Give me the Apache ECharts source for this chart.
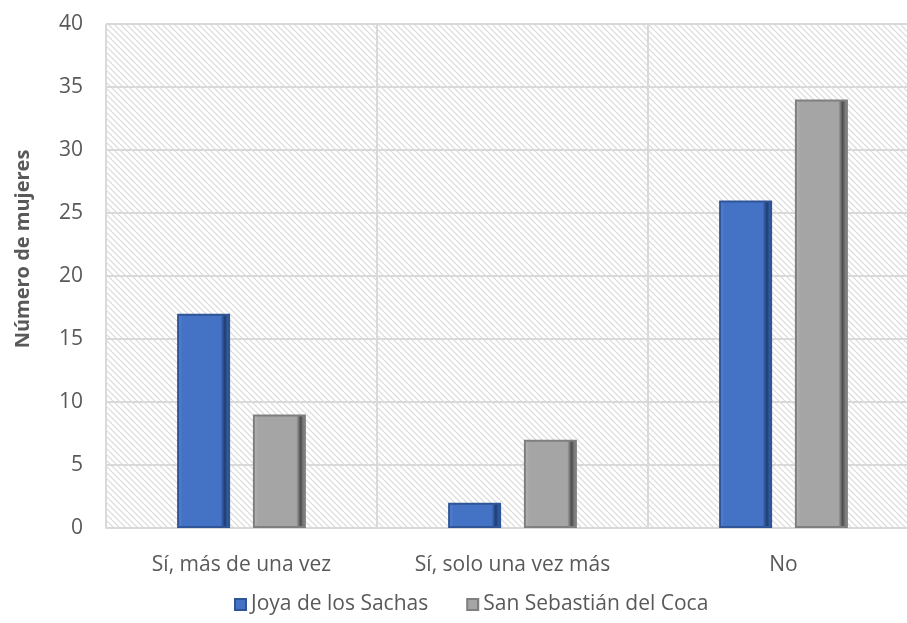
<!DOCTYPE html>
<html>
<head>
<meta charset="utf-8">
<script src="https://cdn.jsdelivr.net/npm/echarts@6/dist/echarts.min.js"></script>
<style>
  html, body { margin: 0; padding: 0; background: #fff; overflow: hidden; }
  #chart { width: 919px; height: 623px; }
</style>
</head>
<body>
<div id="chart"></div>
<script>
// Categories and series values
const categories = ['Sí, más de una vez', 'Sí, solo una vez más', 'No'];
const joyaValues = [17, 2, 26];
const cocaValues = [9, 7, 34];
const seriesNames = ['Joya de los Sachas', 'San Sebastián del Coca'];
const yTicks = { min: 0, max: 40, interval: 5 };
const yTitle = 'Número de mujeres';

// Diagonal hatch used as plot-area background
function makeHatch() {
  const c = document.createElement('canvas');
  c.width = 6; c.height = 6;
  const g = c.getContext('2d');
  g.fillStyle = '#ffffff';
  g.fillRect(0, 0, 6, 6);
  g.strokeStyle = '#d9d9d9';
  g.lineWidth = 1.2;
  g.beginPath();
  g.moveTo(-1, -1); g.lineTo(7, 7);
  g.moveTo(-4, 2); g.lineTo(4, 10);
  g.moveTo(2, -4); g.lineTo(10, 4);
  g.stroke();
  return c;
}

// Bevelled bar look: horizontal shading with a darker right edge
function bevel(light, mid, dark, border) {
  return {
    color: new echarts.graphic.LinearGradient(0, 0, 1, 0, [
      { offset: 0, color: light },
      { offset: 0.1, color: mid },
      { offset: 0.82, color: mid },
      { offset: 0.9, color: dark },
      { offset: 1, color: mid }
    ]),
    borderColor: border,
    borderWidth: 2
  };
}

const chart = echarts.init(document.getElementById('chart'));
const font = 'Open Sans';
const textGrey = '#595959';

chart.setOption({
  animation: false,
  textStyle: { fontFamily: font },
  grid: {
    left: 106, right: 0, top: 24, bottom: 95,
    show: true,
    borderWidth: 0,
    backgroundColor: { image: makeHatch(), repeat: 'repeat' }
  },
  legend: {
    bottom: 3,
    left: 229,
    itemWidth: 11,
    itemHeight: 11,
    itemGap: 38,
    icon: 'rect',
    textStyle: { fontSize: 21, color: textGrey, fontFamily: font },
    data: seriesNames
  },
  graphic: [{
    type: 'text',
    x: 13,
    y: 249,
    rotation: Math.PI / 2,
    style: {
      text: yTitle,
      fill: textGrey,
      font: 'bold 20px "Open Sans"',
      align: 'center',
      verticalAlign: 'top'
    }
  }],
  xAxis: {
    type: 'category',
    data: categories,
    axisLine: { show: true, lineStyle: { color: '#d9d9d9', width: 2 } },
    axisTick: { show: false },
    splitLine: { show: true, lineStyle: { color: '#d9d9d9', width: 2 } },
    axisLabel: { fontSize: 21, color: textGrey, margin: 27, fontFamily: font }
  },
  yAxis: {
    type: 'value',
    min: yTicks.min, max: yTicks.max, interval: yTicks.interval,
    axisLine: { show: false },
    axisTick: { show: false },
    splitLine: { lineStyle: { color: '#d9d9d9', width: 2 } },
    axisLabel: { fontSize: 21, color: textGrey, margin: 23, fontFamily: font }
  },
  series: [
    {
      name: seriesNames[0],
      type: 'bar',
      data: joyaValues,
      barWidth: 53,
      barGap: '43%',
      itemStyle: bevel('#5b88d6', '#4472c4', '#1f3d73', '#2f5597')
    },
    {
      name: seriesNames[1],
      type: 'bar',
      data: cocaValues,
      barWidth: 53,
      itemStyle: bevel('#b8b8b8', '#a5a5a5', '#4d4d4d', '#7f7f7f')
    }
  ]
});
</script>
</body>
</html>
